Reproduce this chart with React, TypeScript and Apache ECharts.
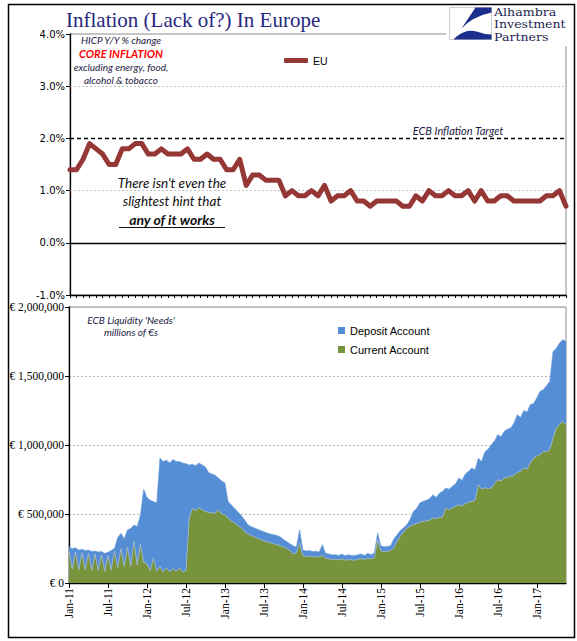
import React, { useEffect, useRef } from "react";
import * as echarts from "echarts";

// ---------- DATA ----------
const MONTH_NAMES = ["Jan", "Feb", "Mar", "Apr", "May", "Jun", "Jul", "Aug", "Sep", "Oct", "Nov", "Dec"];
const FIRST_YEAR = 11; // 2011
const MONTH_COUNT = 77; // Jan-11 .. May-17

// EU core HICP, Y/Y % (monthly, Jan-11 .. May-17)
const euCoreInflation = [
  1.4, 1.4, 1.6, 1.9, 1.8, 1.7, 1.5, 1.5, 1.8, 1.8, 1.9, 1.9,
  1.7, 1.7, 1.8, 1.7, 1.7, 1.7, 1.8, 1.6, 1.6, 1.7, 1.6, 1.6,
  1.4, 1.4, 1.6, 1.1, 1.3, 1.3, 1.2, 1.2, 1.2, 0.9, 1.0, 0.9,
  0.9, 1.0, 0.9, 1.1, 0.8, 0.9, 0.9, 1.0, 0.8, 0.8, 0.7, 0.8,
  0.8, 0.8, 0.8, 0.7, 0.7, 0.9, 0.8, 1.0, 0.9, 0.9, 1.0, 0.9,
  0.9, 1.0, 0.8, 1.0, 0.8, 0.8, 0.9, 0.9, 0.8, 0.8, 0.8, 0.8,
  0.8, 0.9, 0.9, 1.0, 0.7,
];

// ECB liquidity, thousands of millions of EUR, two readings per month (Jan-11 .. May-17)
// top of the stacked area (deposit account + current account)
const depositPlusCurrentK = [
  262, 248, 255, 240, 245, 235, 240, 228, 232, 225, 228, 215, 222, 236, 250, 330, 360, 320, 385, 395, 420, 410, 495, 680,
  620, 600, 590, 580, 905, 880, 890, 870, 895, 880, 880, 870, 865, 855, 860, 850, 870, 855, 840, 800, 790, 780, 760, 740,
  725, 590, 565, 540, 515, 490, 460, 425, 410, 400, 390, 380, 372, 362, 355, 350, 345, 335, 315, 300, 285, 270, 260, 386,
  240, 232, 235, 228, 230, 225, 278, 215, 210, 205, 205, 200, 210, 198, 205, 200, 200, 205, 210, 200, 215, 205, 220, 362,
  270, 262, 265, 270, 320, 350, 380, 400, 423, 460, 519, 540, 580, 592, 600, 610, 640, 620, 650, 665, 688, 680, 700, 720,
  760, 745, 790, 810, 833, 820, 905, 880, 950, 970, 1002, 1030, 1075, 1060, 1100, 1115, 1123, 1160, 1220, 1200, 1250, 1240, 1292, 1300,
  1340, 1389, 1400, 1430, 1461, 1678, 1700, 1740, 1763, 1751,
];
// current account
const currentAccountK = [
  230, 100, 225, 95, 220, 95, 215, 90, 210, 90, 205, 85, 200, 95, 230, 110, 250, 120, 260, 120, 300, 130, 280, 150,
  140, 90, 180, 85, 120, 80, 110, 80, 105, 85, 110, 80, 90, 470, 540, 525, 545, 530, 520, 510, 510, 505, 530, 500,
  495, 470, 450, 435, 415, 400, 375, 355, 345, 335, 325, 315, 305, 298, 292, 285, 278, 270, 262, 250, 235, 210, 220, 290,
  200, 192, 195, 190, 192, 188, 200, 180, 175, 170, 172, 168, 175, 165, 170, 168, 165, 172, 178, 170, 180, 175, 185, 314,
  232, 228, 230, 235, 254, 300, 340, 370, 398, 410, 423, 430, 440, 447, 450, 455, 471, 465, 475, 480, 543, 530, 545, 555,
  567, 560, 575, 585, 592, 600, 712, 680, 690, 685, 688, 720, 749, 740, 760, 765, 773, 780, 800, 810, 833, 825, 870, 905,
  920, 930, 954, 950, 966, 1050, 1123, 1150, 1171, 1147,
];

const inflationTicks = [-1, 0, 1, 2, 3, 4];
const liquidityTicks = [0, 500000, 1000000, 1500000, 2000000];
const ecbTarget = 2.0;
const logoLines = ["Alhambra", "Investment", "Partners"];

const monthLabels = Array.from({ length: MONTH_COUNT }, (_, i) =>
  `${MONTH_NAMES[i % 12]}-${FIRST_YEAR + Math.floor(i / 12)}`
);
const halfMonthLabels: string[] = [];
monthLabels.forEach((m) => {
  halfMonthLabels.push(m);
  halfMonthLabels.push(m + " mid");
});

// ---------- LOGO SHAPES ----------
let logoRegistered = false;
function registerLogo() {
  if (logoRegistered) return;
  logoRegistered = true;
  echarts.graphic.registerShape(
    "aipSailA",
    echarts.graphic.extendPath("M26,0 L42,0 L42,5 Q23,9 12,21 L6,30 Z", {})
  );
  echarts.graphic.registerShape(
    "aipSailB",
    echarts.graphic.extendPath("M4,32 L7,29 Q17,21 27,24 Q35,27 42,27 L42,32 Z", {})
  );
}

const NAVY = "#1b1b45";
const ital = (size: number, bold = false) =>
  `italic ${bold ? "bold " : ""}${size}px Lato, "Open Sans", sans-serif`;

export default function App() {
  const ref = useRef<HTMLDivElement>(null);

  useEffect(() => {
    if (!ref.current) return;
    registerLogo();
    const chart = echarts.init(ref.current, undefined, { renderer: "svg" });

    const option: any = {
      animation: false,
      backgroundColor: "#ffffff",
      grid: [
        { left: 70, top: 34, width: 496, height: 261, show: true, borderColor: "#8c8c8c", borderWidth: 1, backgroundColor: "rgba(0,0,0,0)" },
        { left: 69, top: 307, width: 497, height: 276, show: true, borderColor: "#8c8c8c", borderWidth: 1, backgroundColor: "rgba(0,0,0,0)" },
      ],
      legend: [
        {
          data: [{ name: "EU", icon: "roundRect" }],
          left: 284, top: 55, padding: 0, itemWidth: 24, itemHeight: 5, selectedMode: false,
          textStyle: { fontFamily: "Liberation Sans", fontSize: 10.5, color: "#000" },
        },
        {
          data: [
            { name: "Deposit Account", icon: "rect" },
            { name: "Current Account", icon: "rect" },
          ],
          orient: "vertical", left: 338, top: 325, padding: 0, itemWidth: 7, itemHeight: 7, itemGap: 8, selectedMode: false,
          textStyle: { fontFamily: "Liberation Sans", fontSize: 11, color: "#000" },
        },
      ],
      xAxis: [
        {
          gridIndex: 0, type: "category", data: monthLabels, boundaryGap: false,
          axisLine: { onZero: false, lineStyle: { color: "#000", width: 1.3 } },
          axisTick: { show: true, interval: 0, length: 3, lineStyle: { color: "#000" } },
          axisLabel: { show: false }, splitLine: { show: false },
        },
        {
          gridIndex: 1, type: "category", data: halfMonthLabels, boundaryGap: false,
          axisLine: { onZero: false, lineStyle: { color: "#000", width: 1.3 } },
          axisTick: { show: true, interval: 11, length: 5, lineStyle: { color: "#000" } },
          axisLabel: {
            interval: 11, rotate: 90, margin: 5, color: "#000",
            fontFamily: "Liberation Serif", fontSize: 11.5,
            formatter: (v: string) => v.split(" ")[0],
          },
          splitLine: { show: false },
        },
      ],
      yAxis: [
        {
          gridIndex: 0, type: "value",
          min: inflationTicks[0], max: inflationTicks[inflationTicks.length - 1], interval: 1,
          axisLine: { show: true, lineStyle: { color: "#000", width: 1.3 } },
          axisTick: { show: true, length: 4, lineStyle: { color: "#000" } },
          axisLabel: {
            formatter: (v: number) => v.toFixed(1) + "%", margin: 5,
            fontFamily: "DejaVu Sans", fontSize: 10, color: "#000",
          },
          splitLine: { show: false },
        },
        {
          gridIndex: 1, type: "value",
          min: liquidityTicks[0], max: liquidityTicks[liquidityTicks.length - 1], interval: 500000,
          axisLine: { show: true, lineStyle: { color: "#000", width: 1.3 } },
          axisTick: { show: true, length: 4, lineStyle: { color: "#000" } },
          axisLabel: {
            formatter: (v: number) => "€ " + v.toLocaleString("en-US"), margin: 5,
            fontFamily: "Liberation Serif", fontSize: 11.5, color: "#000",
          },
          splitLine: { show: true, lineStyle: { color: "#a8a8a8", type: [2, 2], width: 0.8 } },
        },
      ],
      series: [
        {
          name: "EU", type: "line", xAxisIndex: 0, yAxisIndex: 0,
          data: euCoreInflation, color: "#953735",
          showSymbol: false, symbol: "none", z: 3,
          lineStyle: { color: "#953735", width: 5, join: "round", cap: "round" },
          itemStyle: { color: "#953735" },
          markLine: {
            silent: true, symbol: "none", z: 1, label: { show: false },
            data: [
              { yAxis: 1, lineStyle: { color: "#b4b4b4", type: [2, 2], width: 0.8 } },
              { yAxis: 3, lineStyle: { color: "#b4b4b4", type: [2, 2], width: 0.8 } },
              { yAxis: 0, lineStyle: { color: "#000", type: "solid", width: 1.3 } },
              { yAxis: ecbTarget, lineStyle: { color: "#000", type: [4, 3], width: 1.3 } },
            ],
          },
        },
        {
          name: "Deposit Account", type: "line", xAxisIndex: 1, yAxisIndex: 1,
          data: depositPlusCurrentK.map((v) => v * 1000),
          color: "#558ED5", showSymbol: false, symbol: "none", z: 2,
          lineStyle: { color: "#6b9ddb", width: 0.6 },
          areaStyle: { color: "#558ED5", opacity: 1 },
          itemStyle: { color: "#558ED5" },
        },
        {
          name: "Current Account", type: "line", xAxisIndex: 1, yAxisIndex: 1,
          data: currentAccountK.map((v) => v * 1000),
          color: "#77933C", showSymbol: false, symbol: "none", z: 3,
          lineStyle: { color: "#a9bfdc", width: 0.8 },
          areaStyle: { color: "#77933C", opacity: 1 },
          itemStyle: { color: "#77933C" },
        },
      ],
      graphic: [
        // outer frame
        { type: "rect", z: 100, shape: { x: 8.5, y: 4.5, width: 566, height: 633 }, style: { fill: "none", stroke: "#000", lineWidth: 1.5 } },
        // title
        { type: "text", z: 100, x: 66, y: 20, style: { text: "Inflation (Lack of?) In Europe", font: '21px "Liberation Serif", serif', fill: "#27287e", textVerticalAlign: "middle" } },
        // logo
        { type: "rect", z: 99, shape: { x: 446, y: 5, width: 128, height: 41 }, style: { fill: "#fff" } },
        { type: "rect", z: 100, shape: { x: 449.5, y: 7.5, width: 42, height: 32 }, style: { fill: "#fff", stroke: "#cfcfcf", lineWidth: 1 } },
        { type: "aipSailA", z: 101, x: 449.5, y: 7.5, style: { fill: "#1d2f8c" } },
        { type: "aipSailB", z: 101, x: 449.5, y: 7.5, style: { fill: "#1d2f8c" } },
        ...logoLines.map((t, i) => ({
          type: "text", z: 100, x: 494, y: 12 + i * 12.5, scaleX: 1.2,
          style: { text: t, font: '10.5px "DejaVu Serif", serif', fill: "#1b2450", textVerticalAlign: "middle" },
        })),
        // top annotations
        { type: "text", z: 100, x: 121, y: 40, style: { text: "HICP Y/Y % change", font: ital(10), fill: NAVY, textAlign: "center", textVerticalAlign: "middle" } },
        { type: "text", z: 100, x: 121, y: 53, style: { text: "CORE INFLATION", font: ital(11, true), fill: "#ff0000", textAlign: "center", textVerticalAlign: "middle" } },
        { type: "text", z: 100, x: 121, y: 67, style: { text: "excluding energy, food,", font: ital(10), fill: NAVY, textAlign: "center", textVerticalAlign: "middle" } },
        { type: "text", z: 100, x: 121, y: 80, style: { text: "alcohol & tobacco", font: ital(10), fill: NAVY, textAlign: "center", textVerticalAlign: "middle" } },
        { type: "text", z: 100, x: 458, y: 130, style: { text: "ECB Inflation Target", font: ital(11), fill: NAVY, textAlign: "center", textVerticalAlign: "middle" } },
        { type: "text", z: 100, x: 172, y: 183, style: { text: "There isn't even the", font: ital(13.5), fill: "#111", textAlign: "center", textVerticalAlign: "middle" } },
        { type: "text", z: 100, x: 172, y: 201, style: { text: "slightest hint that", font: ital(13.5), fill: "#111", textAlign: "center", textVerticalAlign: "middle" } },
        { type: "text", z: 100, x: 172, y: 219, style: { text: "any of it works", font: ital(14, true), fill: "#111", textAlign: "center", textVerticalAlign: "middle" } },
        { type: "line", z: 100, shape: { x1: 119, y1: 227.5, x2: 225, y2: 227.5 }, style: { stroke: "#111", lineWidth: 1.2 } },
        // bottom annotations
        { type: "text", z: 100, x: 131, y: 320, style: { text: "ECB Liquidity 'Needs'", font: ital(10), fill: NAVY, textAlign: "center", textVerticalAlign: "middle" } },
        { type: "text", z: 100, x: 131, y: 332, style: { text: "millions of €s", font: ital(10), fill: NAVY, textAlign: "center", textVerticalAlign: "middle" } },
      ],
    };

    chart.setOption(option);
    return () => chart.dispose();
  }, []);

  return (
    <div
      ref={ref}
      style={{ position: "absolute", left: 0, top: 0, width: 577, height: 641, background: "#fff" }}
    />
  );
}
